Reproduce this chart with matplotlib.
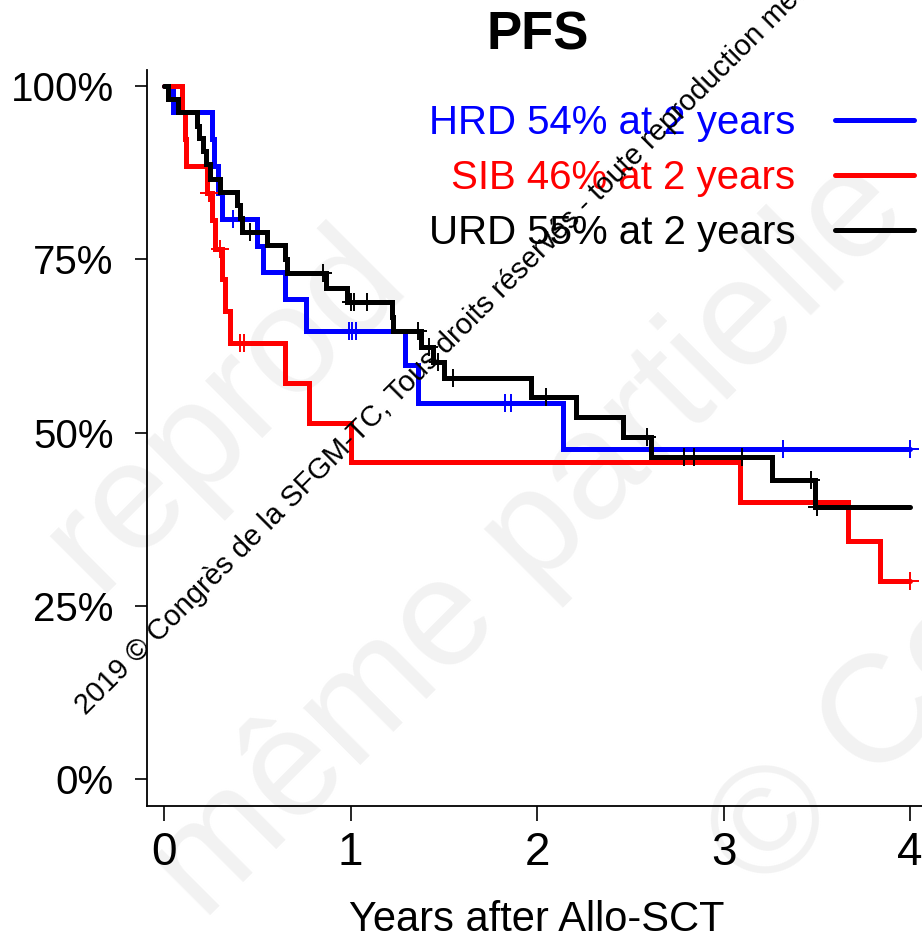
import numpy as np
import matplotlib
matplotlib.use("Agg")
import matplotlib.pyplot as plt
from matplotlib.lines import Line2D

plt.rcParams['font.family'] = ['Liberation Sans', 'DejaVu Sans']

# --- data ---
# event times (years) and survival (%) after each step
hrd_t = [0, 0.05, 0.26, 0.27, 0.29, 0.31, 0.50, 0.53, 0.65, 0.76, 1.29, 1.36, 2.14]
hrd_s = [100, 96.2, 92.3, 88.5, 84.6, 80.8, 76.9, 73.1, 69.2, 64.6, 59.7, 54.3, 47.6]
hrd_cens = [0.37, 0.99, 1.01, 1.03, 1.83, 1.86, 3.32, 4.0]

sib_t = [0, 0.095, 0.11, 0.12, 0.23, 0.256, 0.273, 0.31, 0.327, 0.354, 0.65, 0.78, 1.00, 3.09, 3.67, 3.84]
sib_s = [100, 96.2, 92.3, 88.5, 84.6, 80.6, 76.5, 72.2, 67.6, 62.9, 57.1, 51.4, 45.7, 40.0, 34.3, 28.6]
sib_cens = [0.24, 0.30, 0.41, 0.43, 4.0]

urd_t = [0, 0.02, 0.075, 0.175, 0.19, 0.21, 0.225, 0.245, 0.30, 0.39, 0.405, 0.42, 0.55, 0.65, 0.66,
         0.87, 0.98, 1.22, 1.23, 1.38, 1.44, 1.50, 1.97, 2.21, 2.46, 2.61, 3.26, 3.49]
urd_s = [100, 98.1, 96.2, 94.3, 92.5, 90.6, 88.7, 86.6, 84.7, 82.8, 80.9, 78.9, 77.0, 75.0, 73.0,
         70.8, 68.8, 66.7, 64.6, 62.4, 60.2, 57.9, 55.1, 52.2, 49.4, 46.5, 43.1, 39.2]
urd_cens = [0.46, 0.85, 1.00, 1.02, 1.09, 1.36, 1.42, 1.47, 1.55, 2.05, 2.59, 2.79, 2.84, 3.10, 3.47, 3.50]

t_end = 4.0
labels = ["HRD 54% at 2 years", "SIB 46% at 2 years", "URD 55% at 2 years"]
colors = ["#0000ff", "#ff0000", "#000000"]
x_ticks = [0, 1, 2, 3, 4]
y_ticks = [0, 25, 50, 75, 100]
y_ticklabels = ["0%", "25%", "50%", "75%", "100%"]

W, H = 922, 941
fig = plt.figure(figsize=(W / 100, H / 100), dpi=100)

# faint background watermark (behind everything)
wm_kw = dict(color="#f2f2f2", rotation=45, rotation_mode="anchor", zorder=-5,
             fontsize=110, ha="center", va="center")
fig.text(530 / W, 1 - 540 / H, "même partielle", **wm_kw)
fig.text(225 / W, 1 - 410 / H, "reprod", **wm_kw)
fig.text(860 / W, 1 - 745 / H, "© Co", **wm_kw)

ax = fig.add_axes([147 / W, 1 - 806 / H, (W - 147) / W, (806 - 70) / H])
ax.patch.set_alpha(0)

curves = [(hrd_t, hrd_s, hrd_cens), (sib_t, sib_s, sib_cens), (urd_t, urd_s, urd_cens)]
handles = []
for (t, s, cens), col, lab in zip(curves, colors, labels):
    tt = np.array(t + [t_end])
    ss = np.array(s + [s[-1]])
    ax.step(tt, ss, where="post", color=col, lw=3.6, solid_capstyle="round",
            solid_joinstyle="miter")
    idx = np.searchsorted(tt, np.array(cens), side="right") - 1
    ax.plot(cens, ss[idx], ls="none", marker="+", ms=13, mew=1.4, color=col)
    handles.append(Line2D([], [], color=col, lw=3.6, solid_capstyle="round"))

ax.set_xlim((147 - 164) / 186.5, (W - 164) / 186.5)
ax.set_ylim((779 - 806) / 6.93, (779 - 70) / 6.93)
ax.spines["top"].set_visible(False)
ax.spines["right"].set_visible(False)
ax.spines["left"].set_linewidth(1.3)
ax.spines["bottom"].set_linewidth(1.3)

ax.set_yticks(y_ticks)
ax.set_yticklabels(y_ticklabels, fontsize=29)
ax.tick_params(axis="y", length=9, width=1.2, pad=15)
ax.set_xticks(x_ticks)
ax.set_xticklabels([str(v) for v in x_ticks], fontsize=33)
ax.tick_params(axis="x", length=11, width=1.2, pad=7)

fig.text(537 / W, 1 - 931 / H, "Years after Allo-SCT", fontsize=30,
         ha="center", va="baseline")
fig.text(538 / W, 1 - 50 / H, "PFS", fontsize=38, fontweight="bold", ha="center", va="baseline")

fig.legend(handles, labels, loc="upper right", bbox_to_anchor=(914 / W, 1 - 104 / H),
           frameon=False, fontsize=29, markerfirst=False, labelcolor=colors,
           handlelength=1.95, handletextpad=1.0, labelspacing=0.42, borderpad=0,
           borderaxespad=0)

# small copyright line across the plot
fig.text(86 / W, 1 - 716 / H,
         "2019 © Congrès de la SFGM-TC, Tous droits réservés - toute reproduction même partielle",
         fontsize=21, rotation=45, rotation_mode="anchor", ha="left", va="baseline",
         color="#000000", zorder=10)

fig.savefig("out.png", dpi=100)
